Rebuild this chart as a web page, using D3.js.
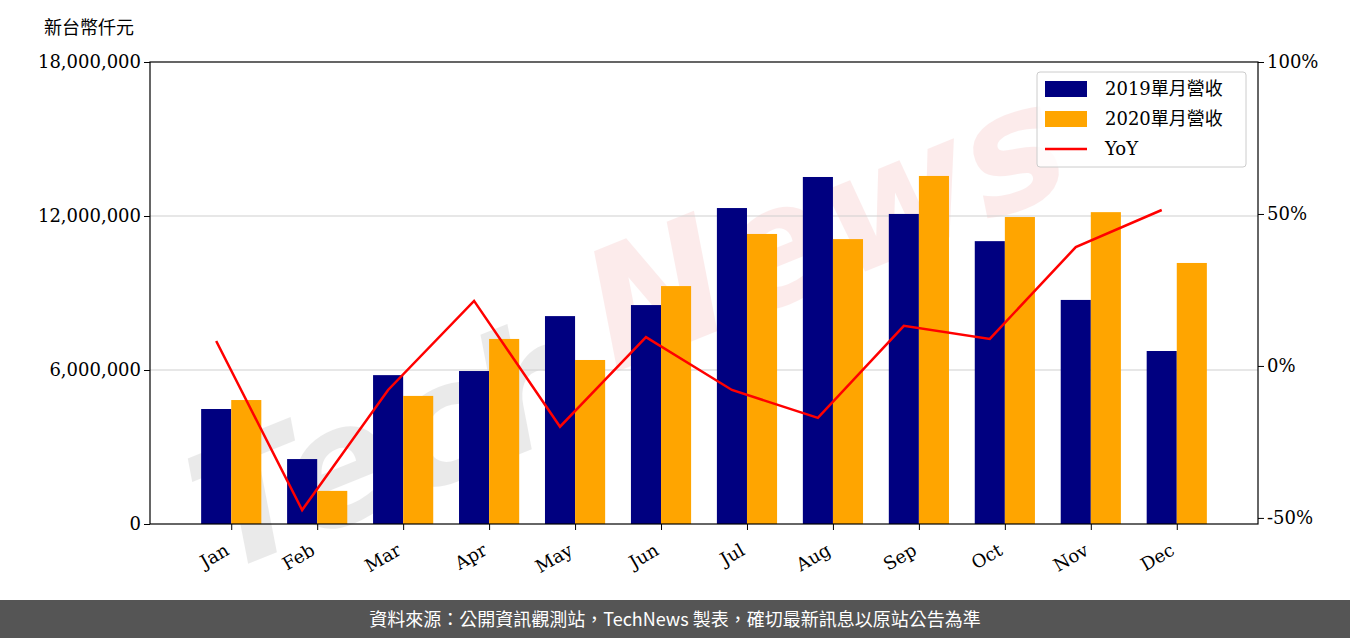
<!DOCTYPE html>
<html><head><meta charset="utf-8">
<script src="https://cdn.jsdelivr.net/npm/d3@7"></script>
<style>body{margin:0;background:#fff}svg{display:block}</style>
</head><body>
<script>
const months = ['Jan','Feb','Mar','Apr','May','Jun','Jul','Aug','Sep','Oct','Nov','Dec'];
const rev2019 = [4.48,2.53,5.80,5.96,8.10,8.53,12.31,13.52,12.08,11.02,8.73,6.74].map(v => v * 1e6);
const rev2020 = [4.83,1.29,4.99,7.21,6.39,9.27,11.30,11.10,13.56,11.96,12.15,10.17].map(v => v * 1e6);
const yoy = [8.2,-47.4,-7.9,21.4,-20.0,9.5,-7.9,-17.1,13.2,8.9,39.1,51.3];
const leftTicks = [0, 6e6, 12e6, 18e6];
const rightTicks = [-50, 0, 50, 100];

const W = 1350, H = 638;
const L = 150, R = 1258, T = 62, B = 524;
const font = '"DejaVu Serif", "Noto Sans CJK TC", serif';

const svg = d3.select('body').append('svg').attr('width', W).attr('height', H);

const x = d3.scaleLinear().domain([-0.77, 12.12]).range([L, R]);
const y = d3.scaleLinear().domain([0, 18e6]).range([B, T]);
const y2 = d3.scaleLinear().domain([-52, 100]).range([B, T]);
const bw = x(0.35) - x(0);

// watermark
const wm = svg.append('g').attr('transform', 'translate(640,330) rotate(-22)')
    .attr('font-family', 'DejaVu Sans').attr('font-weight', 'bold').attr('font-size', 165)
    .attr('font-style', 'italic');
wm.append('text').attr('x', -480).attr('y', 70).attr('fill', '#000').attr('opacity', 0.08).text('Tech');
wm.append('text').attr('x', -40).attr('y', 30).attr('fill', '#e03030').attr('opacity', 0.09).text('News');

// grid
svg.append('g').selectAll('line').data(leftTicks.slice(1, 3)).join('line')
    .attr('x1', L).attr('x2', R).attr('y1', d => y(d)).attr('y2', d => y(d))
    .attr('stroke', '#d0d0d0').attr('stroke-width', 1.2);

// bars
svg.append('g').selectAll('rect').data(rev2019).join('rect')
    .attr('x', (d, i) => x(i) - bw / 2).attr('width', bw)
    .attr('y', d => y(d)).attr('height', d => B - y(d)).attr('fill', '#000080');
svg.append('g').selectAll('rect').data(rev2020).join('rect')
    .attr('x', (d, i) => x(i) + bw / 2).attr('width', bw)
    .attr('y', d => y(d)).attr('height', d => B - y(d)).attr('fill', '#ffa500');

// yoy line
svg.append('path').datum(yoy)
    .attr('d', d3.line().x((d, i) => x(i)).y(d => y2(d)))
    .attr('fill', 'none').attr('stroke', '#ff0000').attr('stroke-width', 2.5);

// frame
svg.append('rect').attr('x', L).attr('y', T).attr('width', R - L).attr('height', B - T)
    .attr('fill', 'none').attr('stroke', '#000').attr('stroke-width', 1.2);

// axes
const axL = svg.append('g').attr('transform', `translate(${L},0)`)
    .call(d3.axisLeft(y).tickValues(leftTicks).tickFormat(d3.format(',')).tickSizeOuter(0).tickSize(6));
const axR = svg.append('g').attr('transform', `translate(${R},0)`)
    .call(d3.axisRight(y2).tickValues(rightTicks).tickFormat(d => d + '%').tickSizeOuter(0).tickSize(6));
const axB = svg.append('g').attr('transform', `translate(0,${B})`)
    .call(d3.axisBottom(x).tickValues(d3.range(12).map(i => i + 0.175)).tickFormat(i => months[Math.round(i - 0.175)]).tickSizeOuter(0).tickSize(6));
[axL, axR, axB].forEach(a => {
  a.select('.domain').remove();
  a.selectAll('text').attr('font-family', font).attr('font-size', 18).attr('fill', '#000');
});
axB.selectAll('text').attr('text-anchor', 'end').attr('dy', 0)
    .attr('transform', 'translate(-6,22) rotate(-30)');

svg.append('text').attr('x', 44).attr('y', 34).attr('font-family', font)
    .attr('font-size', 18).text('新台幣仟元');

// legend
const lg = svg.append('g').attr('transform', 'translate(1037,72)');
lg.append('rect').attr('width', 209).attr('height', 95).attr('rx', 3)
    .attr('fill', '#fff').attr('fill-opacity', 0.8).attr('stroke', '#ccc');
const items = [['2019單月營收', '#000080', 'bar'], ['2020單月營收', '#ffa500', 'bar'], ['YoY', '#ff0000', 'line']];
items.forEach((it, i) => {
  const cy = 17 + i * 30;
  if (it[2] === 'bar') lg.append('rect').attr('x', 8).attr('y', cy - 8).attr('width', 42).attr('height', 16).attr('fill', it[1]);
  else lg.append('line').attr('x1', 8).attr('x2', 50).attr('y1', cy).attr('y2', cy).attr('stroke', it[1]).attr('stroke-width', 2.5);
  lg.append('text').attr('x', 68).attr('y', cy + 6).attr('font-family', font).attr('font-size', 18).text(it[0]);
});

// footer
svg.append('rect').attr('x', 0).attr('y', 600).attr('width', W).attr('height', 38).attr('fill', '#555');
svg.append('text').attr('x', W / 2).attr('y', 626).attr('text-anchor', 'middle')
    .attr('font-family', '"Noto Sans CJK TC", sans-serif').attr('font-size', 18).attr('fill', '#fff')
    .text('資料來源：公開資訊觀測站，TechNews 製表，確切最新訊息以原站公告為準');
</script>
</body></html>
